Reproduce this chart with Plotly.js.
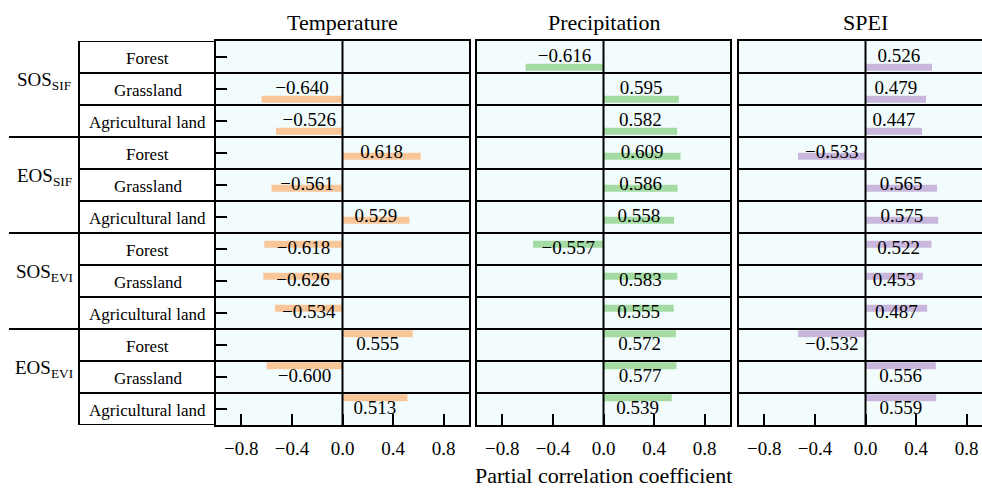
<!DOCTYPE html>
<html>
<head>
<meta charset="utf-8">
<script src="https://cdn.plot.ly/plotly-3.0.1.min.js"></script>
<style>html,body{margin:0;padding:0;background:#fff;}#chart{width:982px;height:488px;}</style>
</head>
<body>
<div id="chart"></div>
<script>
// ---- data ----
const groups = ["SOS<sub>SIF</sub>", "EOS<sub>SIF</sub>", "SOS<sub>EVI</sub>", "EOS<sub>EVI</sub>"];
const landTypes = ["Forest", "Grassland", "Agricultural land"];
const panelTitles = ["Temperature", "Precipitation", "SPEI"];
const temperature   = [null, -0.640, -0.526, 0.618, -0.561, 0.529, -0.618, -0.626, -0.534, 0.555, -0.600, 0.513];
const precipitation = [-0.616, 0.595, 0.582, 0.609, 0.586, 0.558, -0.557, 0.583, 0.555, 0.572, 0.577, 0.539];
const spei          = [0.526, 0.479, 0.447, -0.533, 0.565, 0.575, 0.522, 0.453, 0.487, -0.532, 0.556, 0.559];
const tickVals  = [-0.8, -0.4, 0, 0.4, 0.8];
const tickTexts = ["\u22120.8", "\u22120.4", "0.0", "0.4", "0.8"];
const xTitle = "Partial correlation coefficient";

// ---- styling / layout helpers ----
const W = 982, H = 488;
const FONT = "Liberation Serif";
const colors = ["#f8c699", "#a3dba3", "#c9b6dd"];
const bg = "#f3fcfd";
const groupShift = [0.32, 0.10, -0.15, -0.35]; // visual bar shift per group (row units)
const barW = 0.22;
const px = x => x / W;
const py = y => 1 - y / H;

const nRows = groups.length * landTypes.length;
const rowIdx = Array.from({length: nRows}, (_, i) => i);
const fmt = v => v === null ? "" : (v < 0 ? "\u2212" : "") + Math.abs(v).toFixed(3);
const offsets = rowIdx.map(i => groupShift[Math.floor(i / landTypes.length)] - barW / 2);

const series = [temperature, precipitation, spei];
const xDomains = [[px(216), px(469)], [px(477), px(730)], [px(739), 1]];
const xRanges = [[-1, 1], [-1, 1], [-1, 243 / 126.5 - 1]];
const yDomain = [py(425), py(41)];

const traces = [];
const layout = {
  width: W, height: H,
  margin: {l: 0, r: 0, t: 0, b: 0},
  paper_bgcolor: "#fff", plot_bgcolor: bg,
  showlegend: false,
  font: {family: FONT, color: "#000", size: 19},
  shapes: [], annotations: []
};

series.forEach((vals, k) => {
  const s = k === 0 ? "" : String(k + 1);
  const xa = "x" + s, ya = "y" + s;
  traces.push({
    type: "bar", orientation: "h", x: vals, y: rowIdx,
    xaxis: xa, yaxis: ya, width: barW, offset: offsets,
    marker: {color: colors[k], line: {width: 0}}, hoverinfo: "skip"
  });
  traces.push({
    type: "scatter", mode: "text",
    x: vals.map(v => v === null ? null : v / 2), y: rowIdx,
    text: vals.map(fmt), textposition: "middle center",
    textfont: {family: FONT, size: 19, color: "#000"},
    xaxis: xa, yaxis: ya, cliponaxis: false, hoverinfo: "skip"
  });
  layout["xaxis" + s] = {
    domain: xDomains[k], range: xRanges[k], anchor: ya,
    tickvals: tickVals, ticktext: tickTexts,
    ticks: "inside", ticklen: 11, tickwidth: 2, tickcolor: "#000",
    showgrid: false, zeroline: false,
    showline: true, mirror: true, linecolor: "#000", linewidth: 2,
    tickfont: {family: FONT, size: 19, color: "#000"},
    ticklabelstandoff: 5, fixedrange: true
  };
  layout["yaxis" + s] = {
    domain: yDomain, range: [nRows - 0.5, -0.5], anchor: xa,
    tickvals: rowIdx, showticklabels: false,
    ticks: k === 0 ? "inside" : "", ticklen: 11, tickwidth: 2, tickcolor: "#000",
    showgrid: false, zeroline: false,
    showline: true, mirror: k < 2, linecolor: "#000", linewidth: 2, fixedrange: true
  };
  // row separators
  for (let i = 0; i < nRows - 1; i++) {
    layout.shapes.push({type: "line", xref: xa + " domain", yref: ya,
      x0: 0, x1: 1, y0: i + 0.5, y1: i + 0.5, line: {color: "#000", width: 2}, layer: "above"});
  }
  // zero line
  layout.shapes.push({type: "line", xref: xa, yref: ya + " domain",
    x0: 0, x1: 0, y0: 0, y1: 1, line: {color: "#000", width: 2}, layer: "above"});
  // panel title
  layout.annotations.push({xref: "paper", yref: "paper",
    x: k === 2 ? px(865.5) : (xDomains[k][0] + xDomains[k][1]) / 2, y: py(23),
    text: panelTitles[k], showarrow: false, xanchor: "center", yanchor: "middle",
    font: {family: FONT, size: 22, color: "#000"}});
});

// left table
const tabL = 79, tabR = 216, grpL = 9;
layout.shapes.push({type: "line", xref: "paper", yref: "y",
  x0: px(tabL), x1: px(tabL), y0: -0.5, y1: nRows - 0.5, line: {color: "#000", width: 2}});
for (let i = 0; i <= nRows; i++) {
  const yy = i - 0.5;
  const isGroupEdge = i % landTypes.length === 0 && i > 0 && i < nRows;
  layout.shapes.push({type: "line", xref: "paper", yref: "y",
    x0: px(isGroupEdge ? grpL : tabL), x1: px(tabR), y0: yy, y1: yy,
    line: {color: "#000", width: 2}});
}
rowIdx.forEach(i => {
  layout.annotations.push({xref: "paper", yref: "y", x: px((tabL + tabR) / 2), y: i + 0.05,
    text: landTypes[i % landTypes.length], showarrow: false, xanchor: "center", yanchor: "middle",
    font: {family: FONT, size: 17, color: "#000"}});
});
groups.forEach((g, j) => {
  layout.annotations.push({xref: "paper", yref: "y", x: px(44), y: j * landTypes.length + 1 - 0.24,
    text: g, showarrow: false, xanchor: "center", yanchor: "middle",
    font: {family: FONT, size: 19, color: "#000"}});
});
// x title
layout.annotations.push({xref: "paper", yref: "paper", x: px(603.5), y: py(475),
  text: xTitle, showarrow: false, xanchor: "center", yanchor: "middle",
  font: {family: FONT, size: 22, color: "#000"}});

Plotly.newPlot("chart", traces, layout, {staticPlot: true, displayModeBar: false});
</script>
</body>
</html>
